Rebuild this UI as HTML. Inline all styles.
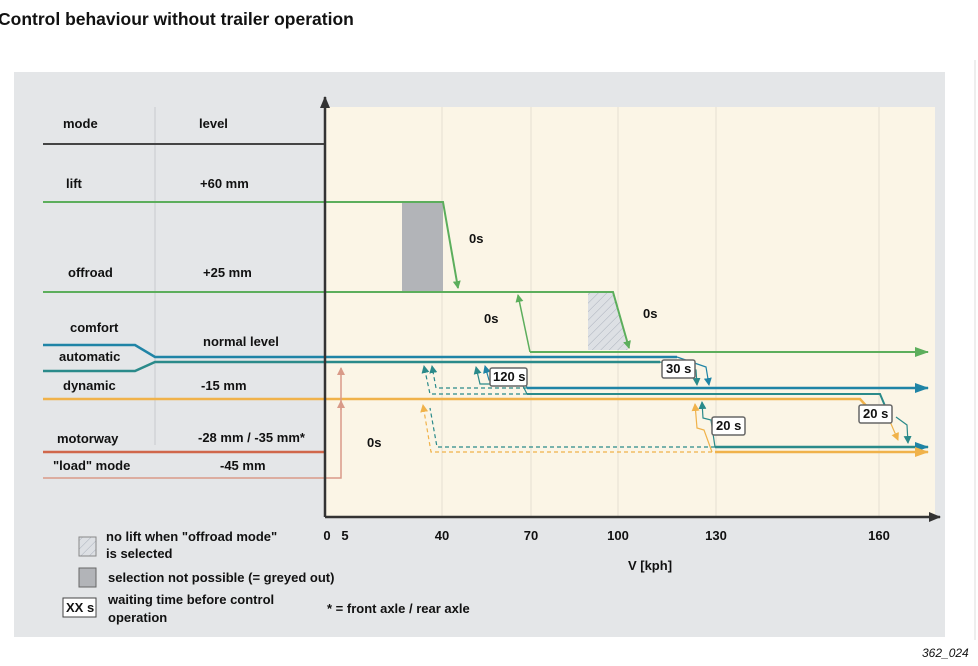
<!DOCTYPE html>
<html><head><meta charset="utf-8"><style>
html,body{margin:0;padding:0;background:#fff;width:978px;height:666px;overflow:hidden}
svg{display:block;font-family:"Liberation Sans",sans-serif;font-weight:bold}
</style></head><body>
<svg width="978" height="666" viewBox="0 0 978 666" xmlns="http://www.w3.org/2000/svg">
<defs>
<marker id="ag" markerWidth="8" markerHeight="8" refX="7" refY="4" orient="auto" markerUnits="userSpaceOnUse"><path d="M0,0 L8,4 L0,8z" fill="#5cae5c"/></marker>
<marker id="at" markerWidth="8" markerHeight="8" refX="7" refY="4" orient="auto" markerUnits="userSpaceOnUse"><path d="M0,0 L8,4 L0,8z" fill="#1f84a6"/></marker>
<marker id="at2" markerWidth="8" markerHeight="8" refX="7" refY="4" orient="auto" markerUnits="userSpaceOnUse"><path d="M0,0 L8,4 L0,8z" fill="#2a8a8a"/></marker>
<marker id="ao" markerWidth="8" markerHeight="8" refX="7" refY="4" orient="auto" markerUnits="userSpaceOnUse"><path d="M0,0 L8,4 L0,8z" fill="#f0b24a"/></marker>
<marker id="ap" markerWidth="8" markerHeight="8" refX="7" refY="4" orient="auto" markerUnits="userSpaceOnUse"><path d="M0,0 L8,4 L0,8z" fill="#d99a88"/></marker>
<marker id="ak" markerWidth="12" markerHeight="10" refX="11" refY="5" orient="auto" markerUnits="userSpaceOnUse"><path d="M0,0 L12,5 L0,10z" fill="#333"/></marker>
<marker id="ag2" markerWidth="14" markerHeight="10" refX="13" refY="5" orient="auto" markerUnits="userSpaceOnUse"><path d="M0,0 L14,5 L0,10z" fill="#5cae5c"/></marker>
<marker id="at3" markerWidth="14" markerHeight="10" refX="13" refY="5" orient="auto" markerUnits="userSpaceOnUse"><path d="M0,0 L14,5 L0,10z" fill="#1f84a6"/></marker>
<marker id="ao3" markerWidth="14" markerHeight="10" refX="13" refY="5" orient="auto" markerUnits="userSpaceOnUse"><path d="M0,0 L14,5 L0,10z" fill="#f0b24a"/></marker>
<pattern id="hat" width="6" height="6" patternUnits="userSpaceOnUse" patternTransform="rotate(45)"><rect width="6" height="6" fill="#dde0e4"/><line x1="0" y1="0" x2="0" y2="6" stroke="#aab0bb" stroke-width="1"/></pattern>
</defs>
<text x="-2" y="25" font-size="17.5" fill="#111">Control behaviour without trailer operation</text>
<rect x="14" y="72" width="931" height="565" fill="#e4e6e8"/>
<line x1="975" y1="60" x2="975" y2="640" stroke="#ddd"/>
<rect x="326" y="107" width="609" height="410" fill="#fbf5e6"/>
<g stroke="#e6e0d2" stroke-width="1">
<line x1="442" y1="107" x2="442" y2="517"/><line x1="531" y1="107" x2="531" y2="517"/><line x1="618" y1="107" x2="618" y2="517"/><line x1="716" y1="107" x2="716" y2="517"/><line x1="879" y1="107" x2="879" y2="517"/>
</g>
<line x1="155" y1="107" x2="155" y2="445" stroke="#c8cbce"/>
<line x1="43" y1="144" x2="325" y2="144" stroke="#444" stroke-width="2"/>
<g font-size="13" fill="#111">
<text x="63" y="128">mode</text><text x="199" y="128">level</text>
<text x="66" y="188">lift</text><text x="200" y="188">+60 mm</text>
<text x="68" y="277">offroad</text><text x="203" y="277">+25 mm</text>
<text x="70" y="332">comfort</text><text x="203" y="346">normal level</text>
<text x="59" y="361">automatic</text>
<text x="63" y="390">dynamic</text><text x="201" y="390">-15 mm</text>
<text x="57" y="443">motorway</text><text x="198" y="442">-28 mm / -35 mm*</text>
<text x="53" y="470">"load" mode</text><text x="220" y="470">-45 mm</text>
</g>
<rect x="402" y="202" width="41" height="90" fill="#b2b4b8"/>
<polygon points="588,292 613,292 628,350 588,350" fill="url(#hat)"/>
<g fill="none" stroke-width="2">
<polyline points="43,202 443,202 458,288" stroke="#5cae5c" marker-end="url(#ag)"/>
<polyline points="43,292 613,292 629,348" stroke="#5cae5c" marker-end="url(#ag)"/>
<polyline points="530,352 518,295" stroke="#5cae5c" stroke-width="1.5" marker-end="url(#ag)"/>
<line x1="530" y1="352" x2="928" y2="352" stroke="#5cae5c" marker-end="url(#ag2)"/>
<polyline points="43,345 135,345 155,357 677,357" stroke="#1f84a6" stroke-width="2.5"/>
<polyline points="43,371 135,371 155,362 660,362" stroke="#2a8a8a" stroke-width="2.5"/>
<polyline points="660,362 696,370 697,385" stroke="#2a8a8a" stroke-width="1.2" marker-end="url(#at2)"/>
<polyline points="677,357 706,367 709,385" stroke="#1f84a6" stroke-width="1.2" marker-end="url(#at)"/>
<line x1="527" y1="388" x2="928" y2="388" stroke="#1f84a6" stroke-width="2.5" marker-end="url(#at3)"/>
<polyline points="527,394 880,394 888,413" stroke="#2a8a8a" stroke-width="2"/>
<polyline points="43,399 860,399 870,410" stroke="#f0b24a" stroke-width="2.5"/>
<polyline points="896,417 907,425 908,443" stroke="#2a8a8a" stroke-width="1.2" marker-end="url(#at2)"/>
<polyline points="888,417 898,440" stroke="#f0b24a" stroke-width="1.2" marker-end="url(#ao)"/>
<line x1="715" y1="447" x2="928" y2="447" stroke="#2a8a8a" stroke-width="2.5" marker-end="url(#at3)"/>
<line x1="715" y1="452" x2="928" y2="452" stroke="#f0b24a" stroke-width="2.5" marker-end="url(#ao3)"/>
<polyline points="715,447 711,420 703,418 702,402" stroke="#2a8a8a" stroke-width="1.2" marker-end="url(#at2)"/>
<polyline points="712,452 704,430 697,428 695,404" stroke="#f0b24a" stroke-width="1.2" marker-end="url(#ao)"/>
<polyline points="527,394 522,384 480,384 476,367" stroke="#2a8a8a" stroke-width="1.2" marker-end="url(#at2)"/>
<polyline points="527,388 525,380 489,380 485,366" stroke="#1f84a6" stroke-width="1.2" marker-end="url(#at)"/>
<polyline points="527,394 430,394 424,366" stroke="#2a8a8a" stroke-width="1.2" stroke-dasharray="4,3" marker-end="url(#at2)"/>
<polyline points="527,388 436,388 432,366" stroke="#2a8a8a" stroke-width="1.2" stroke-dasharray="4,3" marker-end="url(#at2)"/>
<polyline points="715,447 437,447 430,408" stroke="#2a8a8a" stroke-width="1.2" stroke-dasharray="4,3"/>
<polyline points="712,452 431,452 423,405" stroke="#f0b24a" stroke-width="1.2" stroke-dasharray="4,3" marker-end="url(#ao)"/>
<line x1="43" y1="452" x2="325" y2="452" stroke="#d0674b" stroke-width="2.5"/>
<polyline points="43,478 341,478 341,368" stroke="#d99a88" stroke-width="1.5" marker-end="url(#ap)"/>
<line x1="341" y1="410" x2="341" y2="401" stroke="#d99a88" stroke-width="1.5" marker-end="url(#ap)"/>
</g>
<line x1="325" y1="517" x2="325" y2="97" stroke="#333" stroke-width="2.5" marker-end="url(#ak)"/>
<line x1="325" y1="517" x2="940" y2="517" stroke="#333" stroke-width="2.5" marker-end="url(#ak)"/>
<g font-size="13" fill="#111">
<text x="469" y="243">0s</text><text x="484" y="323">0s</text><text x="643" y="318">0s</text><text x="367" y="447">0s</text>
</g>
<g font-size="13" fill="#111" stroke-width="1.5">
<rect x="490" y="368" width="37" height="18" fill="#fff" stroke="#666" rx="2"/><text x="493" y="381">120 s</text>
<rect x="662" y="360" width="33" height="18" fill="#fff" stroke="#666" rx="2"/><text x="666" y="373">30 s</text>
<rect x="712" y="417" width="33" height="18" fill="#fff" stroke="#666" rx="2"/><text x="716" y="430">20 s</text>
<rect x="859" y="405" width="33" height="18" fill="#fff" stroke="#666" rx="2"/><text x="863" y="418">20 s</text>
</g>
<g font-size="13" fill="#111" text-anchor="middle">
<text x="327" y="540">0</text><text x="345" y="540">5</text><text x="442" y="540">40</text><text x="531" y="540">70</text><text x="618" y="540">100</text><text x="716" y="540">130</text><text x="879" y="540">160</text>
<text x="650" y="570">V [kph]</text>
</g>
<rect x="79" y="537" width="17" height="19" fill="url(#hat)" stroke="#888"/>
<rect x="79" y="568" width="17" height="19" fill="#b2b4b8" stroke="#666"/>
<rect x="63" y="598" width="33" height="19" fill="#fff" stroke="#444"/>
<g font-size="13" fill="#111">
<text x="106" y="541">no lift when "offroad mode"</text><text x="106" y="558">is selected</text>
<text x="108" y="582">selection not possible (= greyed out)</text>
<text x="66" y="612">XX s</text>
<text x="108" y="604">waiting time before control</text><text x="108" y="622">operation</text>
<text x="327" y="613">* = front axle / rear axle</text>
</g>
<text x="922" y="657" font-size="12" font-style="italic" font-weight="normal" fill="#111">362_024</text>
</svg>
</body></html>
